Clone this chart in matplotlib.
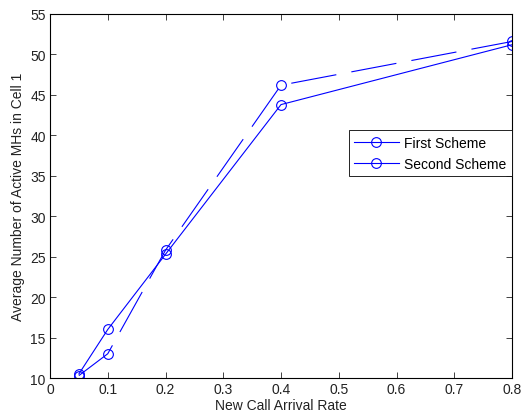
import matplotlib
matplotlib.use("Agg")
import matplotlib.pyplot as plt

rate = [0.05, 0.1, 0.2, 0.4, 0.8]
first_scheme = [10.5, 16.0, 25.3, 43.8, 51.2]
second_scheme = [10.3, 13.0, 25.8, 46.2, 51.6]
labels = ["First Scheme", "Second Scheme"]

plt.rcParams["font.family"] = ["Liberation Sans", "DejaVu Sans"]
plt.rcParams["font.size"] = 10
plt.rcParams["lines.scale_dashes"] = False

fig = plt.figure(figsize=(5.23, 4.14), dpi=100)
ax = fig.add_axes([0.0956, 0.0845, 0.8834, 0.8793])

blue = "#0000ff"
ax.plot(rate, first_scheme, color=blue, lw=0.8, marker="o", ms=7,
        mfc="none", mew=0.8, label=labels[0])
ax.plot(rate, second_scheme, color=blue, lw=0.8, marker="o", ms=7,
        mfc="none", mew=0.8, linestyle=(0, (33, 11)), label=labels[1])

ax.set_xlim(0, 0.8)
ax.set_ylim(10, 55)
ax.set_xticks([0, 0.1, 0.2, 0.3, 0.4, 0.5, 0.6, 0.7, 0.8])
ax.set_xticklabels(["0", "0.1", "0.2", "0.3", "0.4", "0.5", "0.6", "0.7", "0.8"])
ax.set_yticks(range(10, 56, 5))
ax.tick_params(direction="in", top=True, right=True, length=4, width=0.6,
               labelsize=10, pad=3, colors="#222222", labelcolor="#222222")
for s in ax.spines.values():
    s.set_linewidth(0.8)

ax.set_xlabel("New Call Arrival Rate", fontsize=10, labelpad=1, color="#222222")
ax.set_ylabel("Average Number of Active MHs in Cell 1", fontsize=10, labelpad=4,
              color="#222222")

leg = ax.legend(loc="upper right", bbox_to_anchor=(1.0, 0.681), fontsize=10,
                fancybox=False, framealpha=1, edgecolor="black",
                borderaxespad=0, handlelength=3.2, handletextpad=0.4,
                borderpad=0.4, labelspacing=0.5)
leg.get_frame().set_linewidth(0.6)
for h in leg.get_lines():
    h.set_linestyle("-")

fig.savefig("out.png", dpi=100)
